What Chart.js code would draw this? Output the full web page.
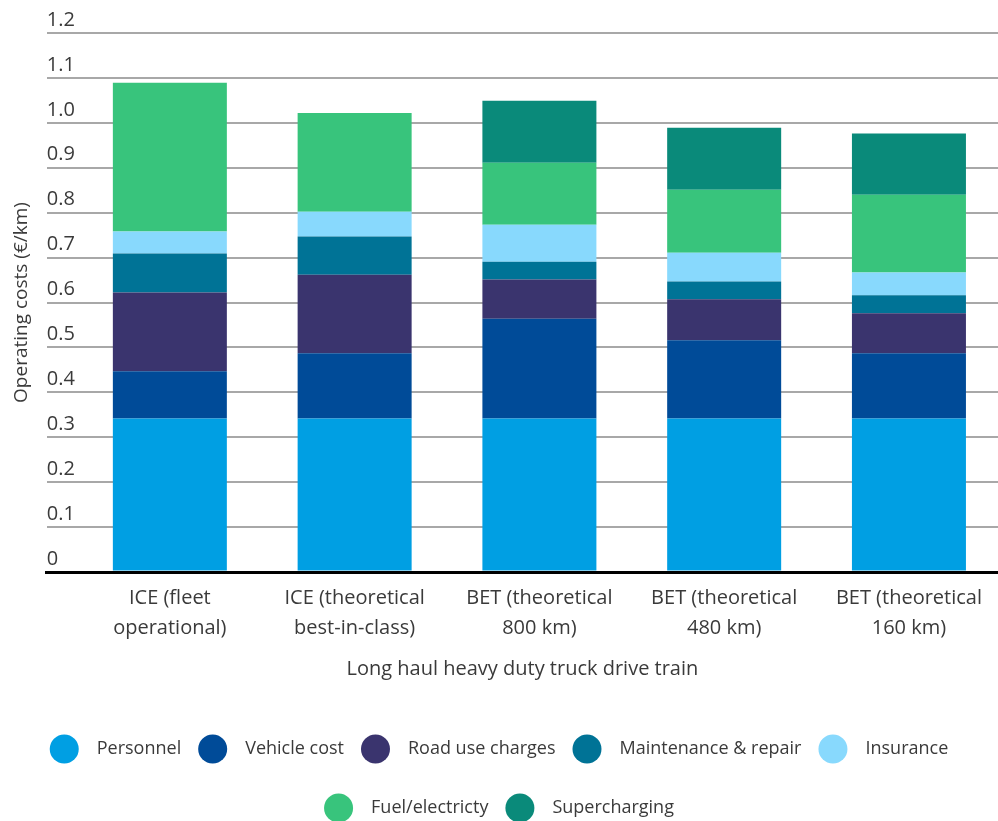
<!DOCTYPE html>
<html>
<head>
<meta charset="utf-8">
<script src="https://cdn.jsdelivr.net/npm/chart.js@4.4.1/dist/chart.umd.min.js"></script>
<style>
  html, body { margin: 0; padding: 0; background: #fff; }
  #wrap { width: 998px; height: 821px; }
</style>
</head>
<body>
<div id="wrap"><canvas id="chart"></canvas></div>
<script>
const CATEGORIES = [
    ['ICE (fleet', 'operational)'],
    ['ICE (theoretical', 'best-in-class)'],
    ['BET (theoretical', '800 km)'],
    ['BET (theoretical', '480 km)'],
    ['BET (theoretical', '160 km)'],
];

const PERSONNEL = [0.342, 0.342, 0.342, 0.342, 0.342];
const VEHICLE = [0.105, 0.145, 0.222, 0.174, 0.145];
const ROAD = [0.175, 0.175, 0.087, 0.091, 0.089];
const MAINTENANCE = [0.087, 0.085, 0.040, 0.040, 0.040];
const INSURANCE = [0.049, 0.055, 0.082, 0.064, 0.051];
const FUEL = [0.331, 0.220, 0.138, 0.140, 0.173];
const SUPERCHARGING = [0, 0, 0.138, 0.138, 0.136];

const FONT = '"Open Sans", sans-serif';
const TEXT = '#3a3a3a';

const series = [
    {label: 'Personnel', data: PERSONNEL, color: '#009fe3'},
    {label: 'Vehicle cost', data: VEHICLE, color: '#004b98'},
    {label: 'Road use charges', data: ROAD, color: '#3a346e'},
    {label: 'Maintenance & repair', data: MAINTENANCE, color: '#007396'},
    {label: 'Insurance', data: INSURANCE, color: '#88d9fd'},
    {label: 'Fuel/electricty', data: FUEL, color: '#38c47c'},
    {label: 'Supercharging', data: SUPERCHARGING, color: '#0a8a7a'},
];

// legend with round markers and two spaced rows
const circleLegend = {
    id: 'circleLegend',
    afterDraw(chart) {
        const ctx = chart.ctx;
        ctx.save();
        ctx.font = '18px ' + FONT;
        const r = 14.5, gap = 18, pad = 17;
        const items = chart.data.datasets.map(ds => ({
            text: ds.label,
            color: ds.backgroundColor,
            w: 2 * r + gap + ctx.measureText(ds.label).width,
        }));
        const rows = [[]];
        let used = 0;
        items.forEach(it => {
            if (used && used + pad + it.w > chart.width - 40) {
                rows.push([]);
                used = 0;
            }
            rows[rows.length - 1].push(it);
            used += (used ? pad : 0) + it.w;
        });
        const rowY = [chart.height - 72, chart.height - 13];
        rows.forEach((row, ri) => {
            const total = row.reduce((s, it) => s + it.w, 0) + pad * (row.length - 1);
            let x = (chart.width - total) / 2;
            const y = rowY[ri];
            row.forEach(it => {
                ctx.fillStyle = it.color;
                ctx.beginPath();
                ctx.arc(x + r, y, r, 0, Math.PI * 2);
                ctx.fill();
                ctx.fillStyle = TEXT;
                ctx.textBaseline = 'middle';
                ctx.textAlign = 'left';
                ctx.fillText(it.text, x + 2 * r + gap, y);
                x += it.w + pad;
            });
        });
        ctx.restore();
    }
};

new Chart(
    document.getElementById('chart'),
    {
        type: 'bar',
        data: {
            datasets: series.map(s => ({
                label: s.label,
                data: s.data.map((v, i) => ({x: i, y: v})),
                backgroundColor: s.color,
                borderWidth: 0,
                barPercentage: 0.617,
                categoryPercentage: 1,
            })),
        },
        options: {
            responsive: true,
            maintainAspectRatio: false,
            animation: false,
            layout: {
                padding: {top: 33, right: 0, bottom: 140, left: 0},
            },
            scales: {
                x: {
                    type: 'linear',
                    stacked: true,
                    offset: false,
                    bounds: 'data',
                    min: -0.666,
                    max: 4.482,
                    afterBuildTicks: scale => {
                        scale.ticks = CATEGORIES.map((c, i) => ({value: i}));
                    },
                    grid: {display: false, drawTicks: false, offset: false},
                    border: {display: true, color: '#000', width: 3},
                    ticks: {
                        padding: 11,
                        color: TEXT,
                        font: {family: FONT, size: 20, lineHeight: 1.5},
                        maxRotation: 0,
                        autoSkip: false,
                        callback: v => CATEGORIES[v],
                    },
                    title: {
                        display: true,
                        text: 'Long haul heavy duty truck drive train',
                        color: TEXT,
                        font: {family: FONT, size: 20},
                        padding: {top: 3, bottom: 0},
                    },
                },
                y: {
                    stacked: true,
                    min: 0,
                    max: 1.2,
                    grid: {
                        color: ctx => ctx.tick.value === 0 ? '#000' : '#a8a8a8',
                        lineWidth: ctx => ctx.tick.value === 0 ? 3 : 2,
                        drawTicks: false,
                    },
                    border: {display: false},
                    ticks: {
                        stepSize: 0.1,
                        mirror: true,
                        padding: 0,
                        labelOffset: -13,
                        color: TEXT,
                        font: {family: FONT, size: 20},
                        callback: v => v === 0 ? '0' : v.toFixed(1),
                    },
                    title: {
                        display: true,
                        text: 'Operating costs (€/km)',
                        color: TEXT,
                        font: {family: FONT, size: 19},
                        padding: {top: 10, bottom: 14},
                    },
                },
            },
            plugins: {
                legend: {display: false},
                tooltip: {enabled: false},
            },
        },
        plugins: [circleLegend],
    }
);
</script>
</body>
</html>
